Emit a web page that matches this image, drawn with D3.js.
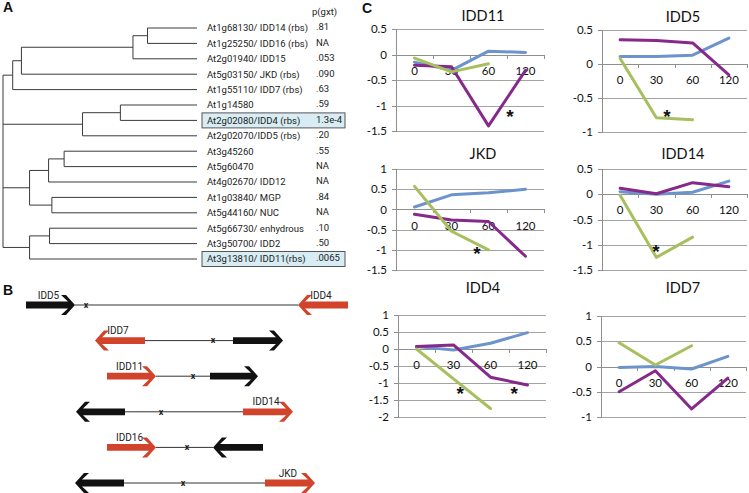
<!DOCTYPE html>
<html><head><meta charset="utf-8">
<script src="https://cdn.jsdelivr.net/npm/d3@7"></script>
<style>body{margin:0;background:#fff}svg{display:block}</style>
</head><body><svg id="c" width="749" height="493"></svg>
<script>
// ---------- Panel A data ----------
const geneLabels = ["At1g68130/ IDD14 (rbs)","At1g25250/ IDD16 (rbs)","At2g01940/ IDD15","At5g03150/ JKD (rbs)",
  "At1g55110/ IDD7 (rbs)","At1g14580","At2g02080/IDD4 (rbs)","At2g02070/IDD5 (rbs)","At3g45260","At5g60470",
  "At4g02670/ IDD12","At1g03840/ MGP","At5g44160/ NUC","At5g66730/ enhydrous","At3g50700/ IDD2","At3g13810/ IDD11(rbs)"];
const pValues = [".81","NA",".053",".090",".63",".59","1.3e-4",".20",".55","NA","NA",".84","NA",".10",".50",".0065"];
const boxedGenes = ["At2g02080/IDD4 (rbs)","At3g13810/ IDD11(rbs)"];
const treeNodes   = ["root","n1","n1a","n1b","n1c","n2","n2a","n3","n3a","n3aa","n3b","n4","n4a"];
const treeParents = [null,"root","n1","n1a","n1b","root","n2","root","n3","n3a","n3","root","n4"];
const nodeHeights = [0,0.05,0.095,0.67,0.745,0.41,0.605,0.137,0.235,0.315,0.252,0.137,0.24];
const leafParents = ["n1c","n1c","n1b","n1a","n1","n2a","n2a","n2","n3aa","n3aa","n3a","n3b","n3b","n4a","n4a","n4"];

// ---------- Panel B data ----------
const locusNames   = ["IDD5-IDD4","IDD7","IDD11","IDD14","IDD16","JKD"];
const leftStart    = [0.6, 7.5, 8.7, 5.6, 8.7, 5.5];
const leftEnd      = [5.5, 12.5, 13.6, 10.5, 13.6, 10.4];
const leftStrand   = [1, -1, 1, -1, 1, -1];
const leftTarget   = [false, true, true, false, true, false];
const leftLabel    = ["IDD5","IDD7","IDD11","","IDD16",""];
const rightStart   = [27.8, 21.3, 19.0, 22.3, 19.3, 24.5];
const rightEnd     = [32.8, 26.3, 23.8, 27.3, 24.3, 29.5];
const rightStrand  = [-1, 1, 1, 1, -1, 1];
const rightTarget  = [true, false, false, true, false, true];
const rightLabel   = ["IDD4","","","IDD14","","JKD"];
const markerPos    = [6.6, 19.3, 17.3, 14.1, 16.7, 16.3];

// ---------- Panel C data ----------
const times = ["0","30","60","120"];
const idd11Blue   = [-0.15,-0.31,0.065,0.04];
const idd11Purple = [-0.21,-0.24,-1.4,-0.31];
const idd11Green  = [-0.07,-0.34,-0.18,null];
const idd11Stars  = [[2.58,-1.13]];
const idd5Blue    = [0.11,0.11,0.13,0.38];
const idd5Purple  = [0.355,0.345,0.31,-0.16];
const idd5Green   = [0.08,-0.79,-0.82,null];
const idd5Stars   = [[1.29,-0.71]];
const jkdBlue     = [0.06,0.36,0.41,0.5];
const jkdPurple   = [-0.12,-0.26,-0.3,-1.16];
const jkdGreen    = [0.57,-0.54,-1.0,null];
const jkdStars    = [[1.69,-0.97]];
const idd14Blue   = [0.05,0.0,0.04,0.26];
const idd14Purple = [0.12,0.01,0.23,0.15];
const idd14Green  = [-0.02,-1.25,-0.85,null];
const idd14Stars  = [[0.99,-1.05]];
const idd4Blue    = [0.07,-0.03,0.17,0.48];
const idd4Purple  = [0.07,0.12,-0.83,-1.06];
const idd4Green   = [0.0,-0.88,-1.75,null];
const idd4Stars   = [[1.18,-1.18],[2.64,-1.18]];
const idd7Blue    = [-0.02,0.0,-0.05,0.2];
const idd7Purple  = [-0.5,-0.085,-0.84,-0.23];
const idd7Green   = [0.47,0.03,0.41,null];
const idd7Stars   = [];

const svg = d3.select("#c");
const FA = "Roboto, 'Liberation Sans', sans-serif";
const FC = "Lato, 'Liberation Sans', sans-serif";

// panel letters
[["A",3,12],["B",3,295],["C",362,13]].forEach(([t,x,y]) =>
  svg.append("text").attr("x",x).attr("y",y).text(t)
     .attr("font-family","'Liberation Sans', Arial, sans-serif").attr("font-weight","bold").attr("font-size",14).attr("fill","#111"));

// ---------- Panel A: dendrogram ----------
(function(){
  const rows = treeNodes.map((id,i)=>({id, parent:treeParents[i], h:nodeHeights[i]}))
    .concat(geneLabels.map((g,i)=>({id:g, parent:leafParents[i], h:1, leaf:true, p:pValues[i]})));
  const root = d3.stratify().id(d=>d.id).parentId(d=>d.parent)(rows);
  d3.cluster().size([1,1]).separation(()=>1)(root);
  const leaves = root.leaves();
  const bx = d3.scaleLinear().domain(d3.extent(leaves,d=>d.x)).range([28,259]);
  const hx = d3.scaleLinear().domain([0,1]).range([3,197]);
  const g = svg.append("g").attr("stroke","#3a3a3a").attr("stroke-width",1).attr("fill","none");
  root.descendants().forEach(n=>{
    if(!n.children) return;
    const ys = n.children.map(c=>bx(c.x));
    g.append("line").attr("x1",hx(n.data.h)).attr("x2",hx(n.data.h))
      .attr("y1",d3.min(ys)).attr("y2",d3.max(ys));
    n.children.forEach(c=>{
      g.append("line").attr("x1",hx(n.data.h)).attr("x2",hx(c.data.h))
        .attr("y1",bx(c.x)).attr("y2",bx(c.x));
    });
  });
  leaves.forEach(l=>{
    const y = bx(l.x);
    if(boxedGenes.includes(l.data.id)){
      svg.append("rect").attr("x",202).attr("y",y-7.5).attr("width",143).attr("height",15)
        .attr("fill","#d7ecf3").attr("stroke","#555").attr("stroke-width",1);
    }
    svg.append("text").attr("x",207).attr("y",y).attr("dy","0.35em").text(l.data.id)
      .attr("font-family",FA).attr("font-size",9.5).attr("fill","#222");
    svg.append("text").attr("x",316).attr("y",y-1).attr("dy","0.35em").text(l.data.p)
      .attr("font-family",FA).attr("font-size",9.5).attr("fill","#222");
  });
  svg.append("text").attr("x",312).attr("y",12).attr("dy","0.35em").text("p(gxt)")
    .attr("font-family",FA).attr("font-size",9.5).attr("fill","#222");
})();

// ---------- Panel B: gene arrows ----------
(function(){
  const x = d3.scaleLinear().domain([0,33]).range([20,350]);
  const y = d3.scalePoint().domain(locusNames).range([305,483]);
  const RED = "#d2432c", BLK = "#111";
  function arrow(a,b,strand,cy){
    const x0 = Math.min(a,b), x1 = Math.max(a,b), s=3.4, h=10;
    let pts = [[x0,cy-s],[x1-7,cy-s],[x1-14,cy-h],[x1-9,cy-h],[x1,cy],[x1-9,cy+h],[x1-14,cy+h],[x1-7,cy+s],[x0,cy+s]];
    if(strand<0) pts = pts.map(([px,py])=>[x0+x1-px,py]);
    return "M"+pts.map(p=>p.join(",")).join("L")+"Z";
  }
  locusNames.forEach((nm,i)=>{
    const cy = y(nm);
    svg.append("line").attr("x1",x(leftEnd[i])).attr("x2",x(rightStart[i])).attr("y1",cy).attr("y2",cy)
      .attr("stroke","#333").attr("stroke-width",1);
    svg.append("path").attr("d",arrow(x(leftStart[i]),x(leftEnd[i]),leftStrand[i],cy)).attr("fill",leftTarget[i]?RED:BLK);
    svg.append("path").attr("d",arrow(x(rightStart[i]),x(rightEnd[i]),rightStrand[i],cy)).attr("fill",rightTarget[i]?RED:BLK);
    svg.append("text").attr("x",x(markerPos[i])).attr("y",cy).attr("dy","0.3em").attr("text-anchor","middle")
      .text("x").attr("font-family",FA).attr("font-size",9).attr("font-weight","bold").attr("fill","#222");
    if(leftLabel[i]) svg.append("text").attr("x",x((leftStart[i]+leftEnd[i])/2)-2).attr("y",cy-10).attr("dy","0.35em")
      .attr("text-anchor","middle").text(leftLabel[i]).attr("font-family",FA).attr("font-size",10).attr("fill","#222");
    if(rightLabel[i]) svg.append("text").attr("x",x((rightStart[i]+rightEnd[i])/2)-2).attr("y",cy-10).attr("dy","0.35em")
      .attr("text-anchor","middle").text(rightLabel[i]).attr("font-family",FA).attr("font-size",10).attr("fill","#222");
  });
})();

// ---------- Panel C: line charts ----------
const BLUE="#6d93cd", PURPLE="#86298a", GREEN="#a8bf5d";
const panels = [
  {title:"IDD11", cx:483, ty:16,  left:396, right:544, top:29,  bottom:131, domain:[-1.5,0.5], series:[idd11Blue,idd11Purple,idd11Green], stars:idd11Stars},
  {title:"IDD5",  cx:683, ty:17,  left:602, right:747, top:30,  bottom:132, domain:[-1,0.5],   series:[idd5Blue,idd5Purple,idd5Green],   stars:idd5Stars},
  {title:"JKD",   cx:483, ty:154, left:396, right:544, top:169, bottom:270, domain:[-1.5,1],   series:[jkdBlue,jkdPurple,jkdGreen],     stars:jkdStars},
  {title:"IDD14", cx:683, ty:154, left:602, right:747, top:169, bottom:270, domain:[-1.5,0.5], series:[idd14Blue,idd14Purple,idd14Green], stars:idd14Stars},
  {title:"IDD4",  cx:483, ty:288, left:398, right:546, top:315, bottom:417, domain:[-2,1],     series:[idd4Blue,idd4Purple,idd4Green],   stars:idd4Stars},
  {title:"IDD7",  cx:683, ty:288, left:601, right:746, top:316, bottom:417, domain:[-1,1],     series:[idd7Blue,idd7Purple,idd7Green],   stars:idd7Stars}
];
const colors = [BLUE, PURPLE, GREEN];
panels.forEach(p=>{
  const g = svg.append("g");
  const w = p.right - p.left;
  const y = d3.scaleLinear().domain(p.domain).range([p.bottom,p.top]);
  const xb = d3.scaleBand().domain(times).range([p.left,p.right]);
  const xi = d3.scaleLinear().domain([-0.5,3.5]).range([p.left,p.right]);
  const ticks = d3.range(p.domain[0], p.domain[1]+1e-9, 0.5);
  const grid = g.append("g").attr("transform",`translate(${p.left},0)`)
    .call(d3.axisLeft(y).tickValues(ticks).tickSize(-w).tickFormat(""));
  grid.select(".domain").remove();
  grid.selectAll("line").attr("stroke","#a3a3a3").attr("stroke-width",1).attr("shape-rendering","crispEdges");
  const ax = g.append("g").attr("transform",`translate(${p.left},0)`)
    .call(d3.axisLeft(y).tickValues(ticks).tickSize(4).tickPadding(5).tickFormat(d=>String(d)));
  ax.select(".domain").attr("stroke","#8f8f8f").attr("shape-rendering","crispEdges");
  ax.selectAll("line").attr("stroke","#8f8f8f").attr("shape-rendering","crispEdges");
  ax.selectAll("text").attr("font-family",FC).attr("font-size",11.5).attr("fill","#111");
  const zx = g.append("g").attr("transform",`translate(0,${y(0)})`)
    .call(d3.axisBottom(xi).tickValues([0.5,1.5,2.5,3.5]).tickSize(4).tickFormat(""));
  zx.select(".domain").attr("stroke","#8f8f8f").attr("shape-rendering","crispEdges");
  zx.selectAll("line").attr("stroke","#8f8f8f").attr("shape-rendering","crispEdges");
  const cl = g.append("g").attr("transform",`translate(0,${y(0)})`)
    .call(d3.axisBottom(xb).tickSize(0).tickPadding(12));
  cl.select(".domain").remove();
  cl.selectAll("text").attr("font-family",FC).attr("font-size",11.5).attr("fill","#111");
  p.series.forEach((vals,k)=>{
    const line = d3.line().defined(d=>d!=null)
      .x((d,i)=>xb(times[i])+xb.bandwidth()/2).y(d=>y(d));
    g.append("path").attr("d",line(vals)).attr("fill","none").attr("stroke",colors[k])
      .attr("stroke-width",3).attr("stroke-linejoin","round").attr("stroke-linecap","round");
  });
  p.stars.forEach(([ix,v])=>{
    g.append("text").attr("x",xi(ix)).attr("y",y(v)+11).attr("text-anchor","middle").text("*")
      .attr("font-family","'Liberation Sans', Arial, sans-serif").attr("font-weight","bold").attr("font-size",19).attr("fill","#111");
  });
  g.append("text").attr("x",p.cx).attr("y",p.ty).attr("dy","0.35em").attr("text-anchor","middle")
    .text(p.title).attr("font-family",FC).attr("font-size",14.5).attr("fill","#111");
});
</script></body></html>
